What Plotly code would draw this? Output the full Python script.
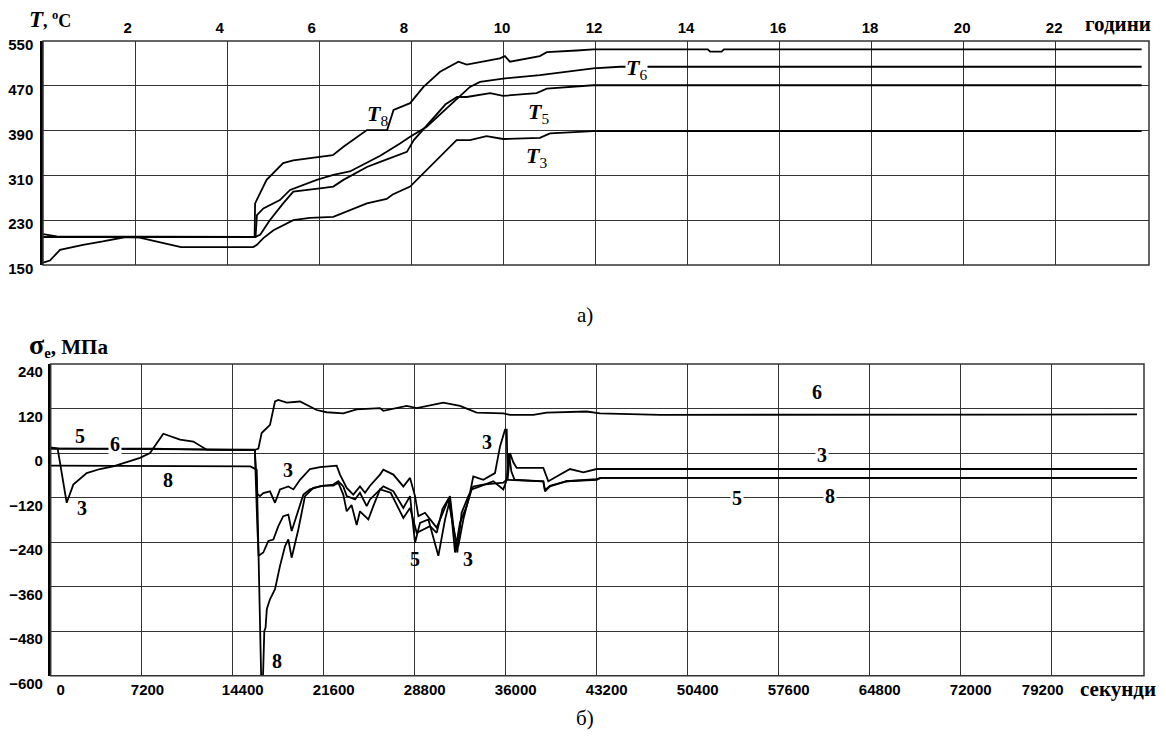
import plotly.graph_objects as go

W, H = 1166, 736
OFF = 8  # page body margin of the html page


def px(x):
    return (x - OFF) / W


def py(y):
    return 1 - (y - OFF) / H


# ---------------- (a) temperature vs time, hours ----------------
hours_T3 = [0, 0.15, 0.37, 0.87, 1.3, 1.8, 2.1, 2.5, 3.0, 4.57, 4.65, 4.79, 5.01, 5.44, 5.8, 6.31,
            6.67, 7.04, 7.47, 7.6, 7.98, 8.27, 8.7, 8.99, 9.28, 9.64, 10.0, 10.8, 11.02, 11.96, 23.88]
T3 = [154, 158, 177, 186, 192, 200, 199, 192, 182, 182, 186, 198, 212, 230, 234, 236,
      248, 260, 268, 276, 290, 314, 349, 373, 373, 380, 375, 377, 385, 389, 389]

hours_T5 = [0, 4.6, 4.72, 4.93, 5.22, 5.44, 6.02, 6.31, 6.53, 7.04, 7.33, 7.91, 8.06, 8.42, 8.75,
            9.0, 9.21, 9.72, 10.0, 10.73, 10.95, 11.96, 23.88]
T5 = [200, 200, 204, 230, 260, 281, 287, 290, 302, 325, 334, 352, 373, 406, 437,
      450, 450, 457, 452, 457, 465, 471, 471]

hours_T6 = [0, 4.62, 4.65, 4.79, 5.15, 5.37, 5.95, 6.31, 6.67, 7.04, 7.33, 7.76, 7.98, 8.34, 8.77,
            9.28, 9.5, 10.0, 10.8, 11.96, 12.54, 23.88]
T6 = [200, 200, 239, 251, 266, 284, 302, 311, 317, 332, 345, 367, 379, 397, 430,
      468, 477, 483, 489, 501, 504, 504]

hours_T8 = [0, 0.3, 4.6, 4.61, 4.86, 5.22, 5.44, 6.3, 6.53, 7.04, 7.48, 7.62, 7.98, 8.27, 8.63,
            9.03, 9.21, 9.93, 10.04, 10.15, 10.8, 10.95, 11.6, 11.96, 14.45, 14.5, 14.75, 14.8, 23.88]
T8 = [205, 201, 200, 260, 302, 332, 337, 346, 361, 391, 391, 427, 439, 468, 495,
      513, 508, 519, 523, 513, 523, 530, 533, 535, 535, 531, 531, 535, 535]

hour_ticks = [2, 4, 6, 8, 10, 12, 14, 16, 18, 20, 22]
temp_ticks = [150, 230, 310, 390, 470, 550]

# ---------------- (b) stress vs time, seconds ----------------
sec_S3 = [0, 550, 1266, 1790, 2848, 3900, 4950, 7066, 7857, 8910, 10230, 11283, 12342, 16150,
          16350, 16560, 16820, 17350, 17747, 18142, 18800, 19200, 19725, 20516, 21307, 22625,
          22890, 23420, 23940, 24470, 24870, 25263, 26054, 26318, 27110, 27900, 28430, 28825,
          29090, 29616, 30144, 30540, 31460, 31990, 32250, 32645, 33175, 33436, 34228, 35150,
          35550, 35945, 36080, 36150, 36340, 36600, 36870, 38975, 39370, 40030, 41086, 42140,
          43200, 85950]
S3 = [15, 12, -134, -85, -54, -43, -36, -13, 0, 52, 36, 31, 9, 8,
      -110, -116, -108, -103, -134, -98, -90, -98, -72, -43, -38, -34,
      -58, -94, -112, -90, -107, -88, -58, -45, -58, -90, -67, -116,
      -170, -161, -184, -201, -125, -224, -251, -179, -107, -63, -72, -54,
      18, 63, 63, -72, 0, -25, -40, -40, -76, -63, -43, -52,
      -43, -43]

sec_S5 = [0, 8000, 12000, 16150, 16350, 16450, 16820, 17220, 17615, 18010, 18400, 18800, 19065,
          19592, 19990, 20516, 21307, 22360, 22756, 23150, 23420, 24080, 24470, 25000, 25263,
          26318, 27110, 27900, 28430, 28825, 29220, 29880, 30670, 31200, 31590, 31990, 32380,
          32910, 33300, 33965, 35020, 35810, 36080, 36250, 36450, 36700, 38975, 39110, 39500,
          40820, 43200, 43500, 85950]
S5 = [12, 12, 9, 8, -200, -277, -268, -237, -233, -197, -170, -166, -210,
      -157, -112, -98, -90, -85, -76, -90, -116, -125, -107, -143, -125,
      -90, -103, -148, -116, -242, -188, -179, -277, -179, -125, -268, -188,
      -143, -98, -90, -76, -98, -72, 0, -50, -72, -76, -103, -90,
      -76, -72, -67, -67]

sec_S6 = [0, 8000, 12000, 16200, 16430, 16690, 17090, 17350, 17747, 18010, 18670, 19725, 21045,
          21836, 23150, 24210, 26054, 26318, 28166, 28958, 31062, 32380, 33700, 35810, 36340,
          38185, 39240, 42408, 43463, 48210, 85950]
S6 = [12, 12, 10, 9, 12, 54, 67, 76, 139, 143, 136, 139, 116,
      110, 107, 118, 121, 114, 127, 121, 136, 127, 109, 107, 103,
      103, 109, 112, 107, 103, 104]

sec_S8 = [0, 15300, 15800, 16300, 16450, 16650, 16800, 16900, 17000, 17100, 17350, 17747, 18142,
          18538, 18800, 19065, 19592, 20120, 20780, 21570, 22360, 22756, 23150, 23420, 23800,
          24210, 24470, 25130, 25525, 26054, 26900, 27900, 28430, 28958, 29485, 30010, 30540,
          31000, 31590, 31860, 32170, 32510, 33040, 33436, 34200, 35810, 36080, 38975, 39110,
          39500, 40820, 43200, 43500, 85950]
S8 = [-34, -34, -36, -45, -250, -600, -600, -480, -470, -420, -394, -367, -304,
      -251, -233, -282, -206, -116, -94, -88, -88, -80, -112, -157, -140,
      -194, -157, -179, -143, -98, -107, -175, -148, -215, -206, -197, -215,
      -150, -116, -197, -268, -161, -116, -90, -85, -80, -72, -76, -100,
      -88, -76, -70, -67, -67]

sec_ticks = [0, 7200, 14400, 21600, 28800, 36000, 43200, 50400, 57600, 64800, 72000, 79200]
stress_ticks = [-600, -480, -360, -240, -120, 0, 120, 240]

# curve labels: (text, x, y, white background)
top_labels = [("8", 7.28, 418, False), ("6", 12.9, 500, True), ("5", 10.76, 421, False),
              ("3", 10.72, 343, False)]
bottom_labels = [("5", 2318, 45, False), ("6", 5087, 25, True), ("3", 2450, -148, False),
                 ("8", 9306, -72, False), ("3", 18800, -45, False), ("8", 17880, -560, False),
                 ("5", 28825, -286, False), ("3", 33040, -286, False), ("3", 34500, 31, False),
                 ("5", 54280, -121, True), ("6", 60610, 165, False), ("3", 61000, -5, True),
                 ("8", 61660, -117, True)]

# ---------------- figure ----------------
fig = go.Figure()
line = dict(color="black", width=1.8)
for xs, ys in [(hours_T3, T3), (hours_T5, T5), (hours_T6, T6), (hours_T8, T8)]:
    fig.add_trace(go.Scatter(x=xs, y=ys, mode="lines", line=line, xaxis="x", yaxis="y",
                             showlegend=False, hoverinfo="skip"))
for xs, ys in [(sec_S3, S3), (sec_S5, S5), (sec_S6, S6), (sec_S8, S8)]:
    fig.add_trace(go.Scatter(x=xs, y=ys, mode="lines", line=line, xaxis="x2", yaxis="y2",
                             showlegend=False, hoverinfo="skip"))
# empty trace that keeps the overlay axis (last seconds label) alive
fig.add_trace(go.Scatter(x=[], y=[], mode="lines", xaxis="x3", yaxis="y2",
                         showlegend=False, hoverinfo="skip"))

tickfont = dict(family="Liberation Sans, Arial, sans-serif", size=15, color="black", weight="bold")
grid = dict(showgrid=True, gridcolor="#333333", gridwidth=1, zeroline=False, ticks="",
            tickfont=tickfont, fixedrange=True, automargin=False)

NB = "\u00a0"
hour_text = [(str(v) + NB * 3) if v < 10 else str(v) for v in hour_ticks]
sec_text = [str(v) for v in sec_ticks]
sec_text[1] = sec_text[1] + NB * 2
sec_text[-1] = ""  # drawn by the overlay axis below with its own shift

fig.update_layout(
    width=W, height=H, margin=dict(l=0, r=0, t=0, b=0, autoexpand=False),
    paper_bgcolor="white", plot_bgcolor="white", showlegend=False,
    xaxis=dict(domain=[px(43), px(1149)], range=[0, 24.04], side="top", anchor="y",
               tickvals=hour_ticks, ticktext=hour_text, ticklabelshift=-1,
               ticklabelstandoff=4, **grid),
    yaxis=dict(domain=[py(265), py(41)], range=[150, 550], anchor="x",
               tickvals=temp_ticks, ticklabelshift=4, ticklabelstandoff=4,
               showline=True, linecolor="black", linewidth=2.5, **grid),
    xaxis2=dict(domain=[px(50.7), px(1144)], range=[0, 86500], side="bottom", anchor="y2",
                tickvals=sec_ticks, ticktext=sec_text, ticklabelshift=10,
                ticklabelstandoff=3, **grid),
    xaxis3=dict(domain=[px(50.7), px(1144)], range=[0, 86500], side="bottom", anchor="y2",
                overlaying="x2", tickvals=[sec_ticks[-1]], ticktext=[str(sec_ticks[-1])],
                ticklabelshift=-9, ticklabelstandoff=3, showgrid=False, zeroline=False,
                ticks="", tickfont=tickfont, fixedrange=True, automargin=False),
    yaxis2=dict(domain=[py(675.7), py(364)], range=[-600, 240], anchor="x2",
                tickvals=stress_ticks, ticklabelshift=8, ticklabelstandoff=2,
                showline=True, linecolor="black", linewidth=2.5, **grid),
)

# frames
for xr, yr in [("x domain", "y domain"), ("x2 domain", "y2 domain")]:
    fig.add_shape(type="rect", xref=xr, yref=yr, x0=0, x1=1, y0=0, y1=1,
                  line=dict(color="#333333", width=1.5), layer="above")

serif = "Liberation Serif, Times New Roman, serif"
for txt, x, y, bg in top_labels:
    fig.add_annotation(x=x, y=y, xref="x", yref="y", showarrow=False,
                       xanchor="center", yanchor="middle",
                       text="<b><i>T</i></b><sub>" + txt + "</sub>",
                       font=dict(family=serif, size=22, color="black"),
                       bgcolor="white" if bg else "rgba(0,0,0,0)", borderpad=0)
for txt, x, y, bg in bottom_labels:
    fig.add_annotation(x=x, y=y, xref="x2", yref="y2", showarrow=False,
                       xanchor="center", yanchor="middle",
                       text="<b>" + txt + "</b>",
                       font=dict(family=serif, size=20, color="black"),
                       bgcolor="white" if bg else "rgba(0,0,0,0)", borderpad=1)


def caption(x, y, text, size, anchor="center"):
    fig.add_annotation(x=px(x), y=py(y), xref="paper", yref="paper", showarrow=False,
                       xanchor=anchor, yanchor="middle", text=text,
                       font=dict(family=serif, size=size, color="black"))


caption(27, 20, "<b><i><span style='font-size:23px'>T</span></i>, <sup>o</sup>C</b>", 18, "left")
caption(27, 345, "<b><span style='font-size:28px'>σ</span><sub>e</sub>, МПа</b>", 21, "left")
caption(1118, 24, "<b>години</b>", 21)
caption(1118, 689, "<b>секунди</b>", 21)
caption(585, 315, "а)", 21)
caption(585, 718, "б)", 21)

fig.write_html("out.html")
